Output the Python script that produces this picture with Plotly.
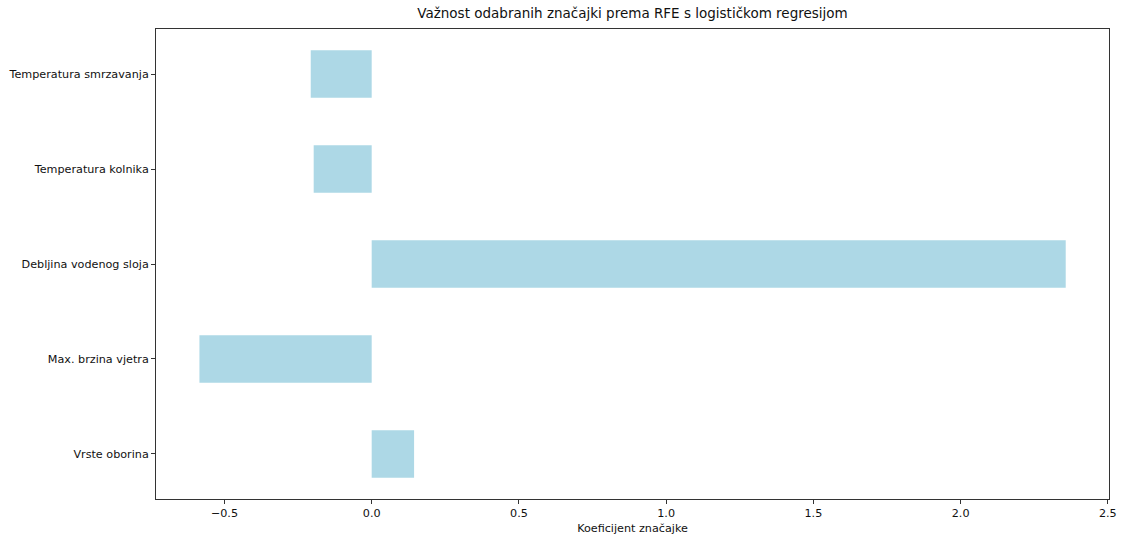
import plotly.graph_objects as go

features = ["Vrste oborina", "Max. brzina vjetra", "Debljina vodenog sloja",
            "Temperatura kolnika", "Temperatura smrzavanja"]
coefficients = [0.144, -0.585, 2.357, -0.197, -0.207]
x_ticks = [-0.5, 0.0, 0.5, 1.0, 1.5, 2.0, 2.5]

positions = list(range(len(features)))

fig = go.Figure()
fig.add_trace(go.Bar(
    x=coefficients, y=positions, orientation="h", width=0.5,
    marker=dict(color="#ADD8E6", line=dict(width=0)),
))

font = dict(family="DejaVu Sans", size=11.2, color="#111111")
fig.update_layout(
    width=1122, height=536,
    margin=dict(l=156, r=13, t=29, b=37, autoexpand=False),
    paper_bgcolor="white", plot_bgcolor="white",
    showlegend=False,
    font=font,
    title=dict(text="Važnost odabranih značajki prema RFE s logističkom regresijom",
               x=0.5, xanchor="center", xref="paper", y=1, yref="container",
               yanchor="top", pad=dict(t=9), automargin=False,
               font=dict(family="DejaVu Sans", size=13.5, color="#111111")),
)
fig.update_xaxes(
    range=[-0.7325, 2.504], tickvals=x_ticks,
    ticktext=[("\u2212" + f"{abs(v):.1f}") if v < 0 else f"{v:.1f}" for v in x_ticks],
    showgrid=False, zeroline=False, automargin=False,
    showline=True, linecolor="#333333", linewidth=1, mirror=True,
    ticks="outside", ticklen=4, tickcolor="#333333",
    title=dict(text="Koeficijent značajke", standoff=4, font=font),
)
fig.update_yaxes(
    range=[-0.475, 4.475], tickvals=positions, ticktext=features,
    showgrid=False, zeroline=False, automargin=False,
    showline=True, linecolor="#333333", linewidth=1, mirror=True,
    ticks="outside", ticklen=4, tickcolor="#333333",
)

fig.write_html(
    "out.html",
    config={"displayModeBar": False},
    post_script="document.body.style.margin='0';document.body.style.overflow='hidden';",
)
